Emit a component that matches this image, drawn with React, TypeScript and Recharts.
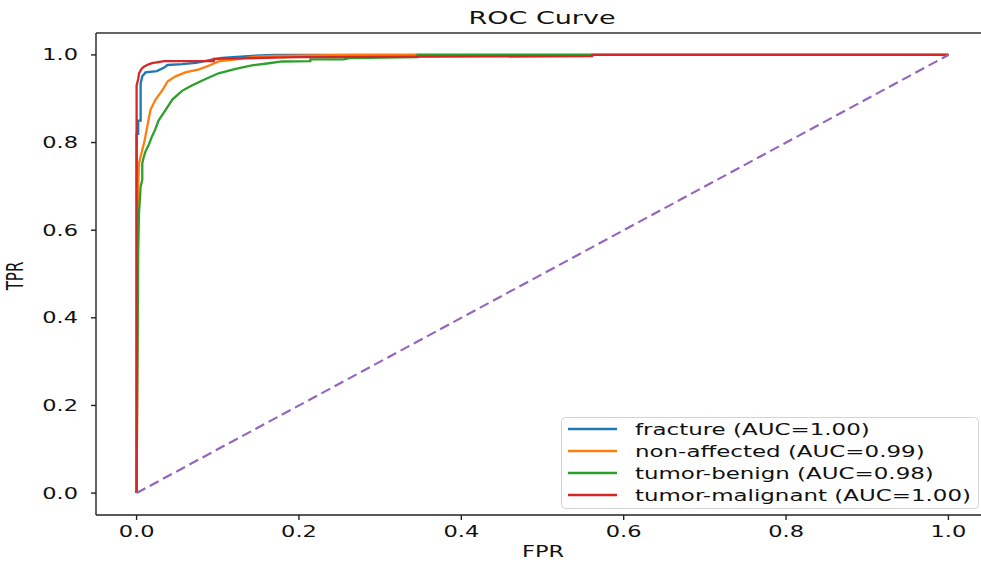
import React from "react";
import { LineChart, Line, XAxis, YAxis, ReferenceLine } from "recharts";

// ROC points
const fractureFpr = [0, 0, 0.002, 0.002, 0.005, 0.005, 0.007, 0.011, 0.025, 0.034, 0.038, 0.056, 0.073, 0.093, 0.105, 0.142, 0.17, 1.0];
const fractureTpr = [0, 0.82, 0.82, 0.85, 0.85, 0.935, 0.951, 0.96, 0.963, 0.971, 0.977, 0.979, 0.982, 0.989, 0.993, 0.998, 1.0, 1.0];

const nonAffectedFpr = [0, 0.002, 0.003, 0.007, 0.009, 0.01, 0.013, 0.017, 0.023, 0.032, 0.038, 0.048, 0.06, 0.077, 0.091, 0.101, 0.122, 0.147, 0.167, 0.27, 1.0];
const nonAffectedTpr = [0, 0.7, 0.753, 0.783, 0.798, 0.806, 0.835, 0.874, 0.897, 0.92, 0.939, 0.951, 0.96, 0.967, 0.977, 0.985, 0.99, 0.996, 0.998, 1.0, 1.0];

const benignFpr = [0, 0.002, 0.003, 0.005, 0.007, 0.007, 0.009, 0.011, 0.015, 0.019, 0.023, 0.027, 0.036, 0.044, 0.056, 0.068, 0.085, 0.101, 0.122, 0.142, 0.163, 0.179, 0.214, 0.214, 0.255, 0.264, 0.346, 0.346, 1.0];
const benignTpr = [0, 0.555, 0.64, 0.7, 0.715, 0.753, 0.768, 0.78, 0.795, 0.814, 0.83, 0.85, 0.875, 0.898, 0.918, 0.93, 0.945, 0.958, 0.968, 0.976, 0.981, 0.985, 0.986, 0.99, 0.99, 0.993, 0.995, 1.0, 1.0];

const malignantFpr = [0, 0, 0.002, 0.003, 0.006, 0.009, 0.014, 0.019, 0.034, 0.095, 0.095, 0.2, 0.561, 0.561, 1.0];
const malignantTpr = [0, 0.93, 0.945, 0.958, 0.968, 0.973, 0.978, 0.981, 0.986, 0.986, 0.991, 0.995, 0.997, 1.0, 1.0];

const chanceFpr = [0, 1];
const chanceTpr = [0, 1];

const classNames = ["fracture", "non-affected", "tumor-benign", "tumor-malignant"];
const aucValues = [1.0, 0.99, 0.98, 1.0];
const classColors = ["#1f77b4", "#ff7f0e", "#2ca02c", "#d62728"];
const axisTicks = [0, 0.2, 0.4, 0.6, 0.8, 1.0];

const toPoints = (xs: number[], ys: number[]) => xs.map((x, i) => ({ x, y: ys[i] }));

const curves = [
  toPoints(fractureFpr, fractureTpr),
  toPoints(nonAffectedFpr, nonAffectedTpr),
  toPoints(benignFpr, benignTpr),
  toPoints(malignantFpr, malignantTpr),
];
const chance = toPoints(chanceFpr, chanceTpr);

const FONT = "DejaVu Sans";
const SX = 1.5; // the reference is stretched horizontally

const XTick = (props: any) => {
  const { x, y, payload } = props;
  return (
    <g transform={`translate(${x},${y + 17}) scale(${SX},1)`}>
      <text textAnchor="middle" fontSize={15} fontFamily={FONT} fill="#111">
        {Number(payload.value).toFixed(1)}
      </text>
    </g>
  );
};

const YTick = (props: any) => {
  const { x, y, payload } = props;
  return (
    <g transform={`translate(${x - 13},${y + 5.5}) scale(${SX},1)`}>
      <text textAnchor="end" fontSize={15} fontFamily={FONT} fill="#111">
        {Number(payload.value).toFixed(1)}
      </text>
    </g>
  );
};

export default function App() {
  return (
    <div
      style={{
        position: "absolute",
        left: 0,
        top: 0,
        width: 981,
        height: 563,
        overflow: "hidden",
        background: "#fff",
      }}
    >
      <LineChart width={1000} height={563} margin={{ top: 33, right: 11, bottom: 0, left: 0 }}>
        <XAxis
          dataKey="x"
          type="number"
          domain={[-0.05, 1.05]}
          ticks={axisTicks}
          allowDataOverflow
          height={48}
          tickSize={5}
          tickMargin={0}
          stroke="#222"
          strokeWidth={1.4}
          tick={<XTick />}
        />
        <YAxis
          type="number"
          domain={[-0.05, 1.05]}
          ticks={axisTicks}
          allowDataOverflow
          width={96}
          tickSize={5}
          tickMargin={0}
          stroke="#222"
          strokeWidth={1.4}
          tick={<YTick />}
        />
        <ReferenceLine y={1.05} stroke="#333" strokeWidth={1.6} />
        {curves.map((pts, i) => (
          <Line
            key={classNames[i]}
            data={pts}
            dataKey="y"
            name={classNames[i]}
            type="linear"
            stroke={classColors[i]}
            strokeWidth={2.3}
            dot={false}
            isAnimationActive={false}
          />
        ))}
        <Line
          data={chance}
          dataKey="y"
          type="linear"
          stroke="#9467bd"
          strokeWidth={2.2}
          strokeDasharray="10 5"
          dot={false}
          isAnimationActive={false}
        />
      </LineChart>

      <svg
        width={981}
        height={563}
        style={{ position: "absolute", left: 0, top: 0, pointerEvents: "none" }}
      >
        <g transform={`translate(542,24) scale(${SX},1)`}>
          <text textAnchor="middle" fontSize={18} fontFamily={FONT} fill="#111">
            ROC Curve
          </text>
        </g>
        <g transform={`translate(543,557) scale(${SX},1)`}>
          <text textAnchor="middle" fontSize={15} fontFamily={FONT} fill="#111">
            FPR
          </text>
        </g>
        <g transform={`translate(23,276) scale(${SX},1) rotate(-90)`}>
          <text textAnchor="middle" fontSize={15} fontFamily={FONT} fill="#111">
            TPR
          </text>
        </g>

        <g transform="translate(561,417)">
          <rect
            x={0.5}
            y={0.5}
            width={417}
            height={91}
            rx={4}
            fill="rgba(255,255,255,0.85)"
            stroke="#d4d4d4"
          />
          {classNames.map((name, i) => {
            const cy = 12 + i * 22;
            return (
              <g key={name}>
                <line x1={7} x2={56} y1={cy} y2={cy} stroke={classColors[i]} strokeWidth={2.3} />
                <g transform={`translate(74,${cy + 5.5}) scale(${SX + 0.03},1)`}>
                  <text fontSize={15} fontFamily={FONT} fill="#111">
                    {`${name} (AUC=${aucValues[i].toFixed(2)})`}
                  </text>
                </g>
              </g>
            );
          })}
        </g>
      </svg>
    </div>
  );
}
